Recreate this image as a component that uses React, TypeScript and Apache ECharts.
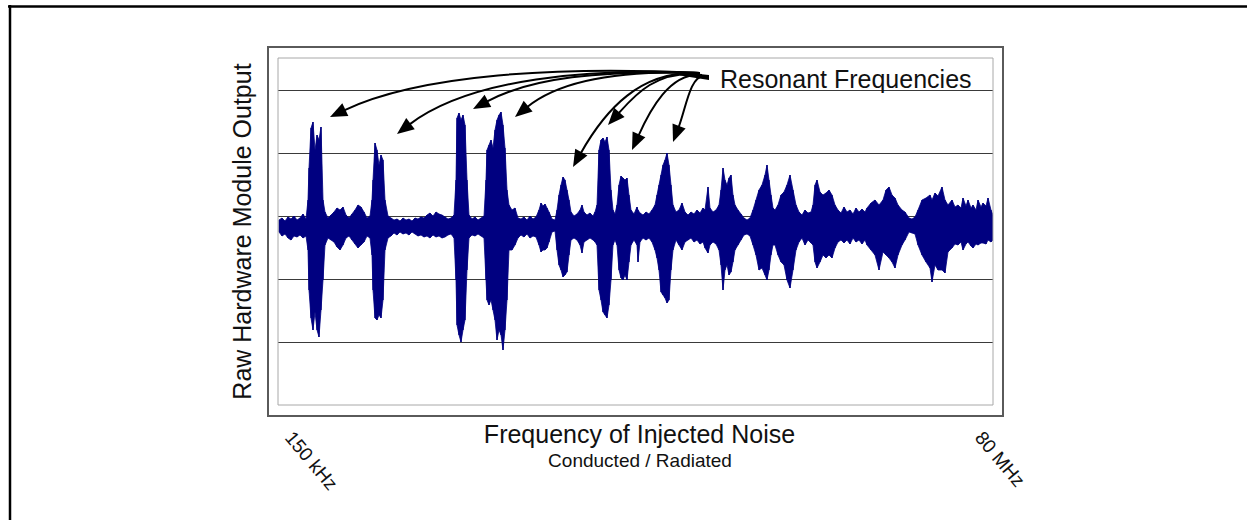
import React, { useEffect, useRef } from 'react';
import * as echarts from 'echarts';

// Sweep position of each sampled envelope point (arbitrary sweep steps, 150 kHz -> 80 MHz)
const sweepPos = [
  1, 4, 7, 10, 13, 16, 19, 22, 25, 28, 30, 31, 33, 35, 37, 39, 41, 43, 45, 47,
  50, 53, 56, 59, 62, 65, 68, 71, 74, 77, 80, 83, 86, 89, 92, 94, 95, 97, 99, 101,
  103, 105, 107, 110, 113, 116, 119, 122, 125, 128, 131, 134, 137, 140, 143, 146, 149, 152, 155, 158,
  161, 164, 167, 170, 173, 176, 178, 179, 181, 183, 185, 187, 189, 191, 194, 197, 200, 203, 206, 208,
  209, 211, 213, 215, 217, 219, 221, 223, 225, 227, 229, 231, 234, 237, 240, 243, 246, 249, 252, 255,
  258, 261, 263, 265, 267, 269, 271, 274, 277, 279, 281, 283, 285, 287, 289, 291, 293, 296, 299, 302,
  304, 306, 309, 312, 315, 317, 319, 321, 323, 325, 327, 329, 331, 333, 335, 337, 339, 341, 343, 345,
  347, 349, 351, 353, 356, 359, 360, 362, 365, 368, 371, 374, 377, 379, 381, 383, 385, 387, 389, 391,
  393, 395, 398, 401, 404, 407, 410, 413, 416, 419, 422, 425, 427, 430, 432, 435, 438, 441, 443, 445,
  447, 449, 451, 453, 455, 457, 460, 463, 466, 469, 472, 475, 478, 481, 484, 487, 489, 491, 493, 495,
  497, 500, 503, 506, 509, 512, 515, 518, 521, 524, 527, 530, 533, 535, 537, 539, 542, 545, 548, 551,
  554, 557, 560, 563, 566, 569, 572, 575, 578, 581, 584, 587, 589, 593, 597, 601, 605, 608, 611, 614,
  617, 620, 624, 627, 631, 634, 637, 640, 644, 648, 652, 654, 657, 660, 664, 667, 670, 674, 677, 680,
  683, 685, 688, 690, 693, 695, 698, 700, 703, 705, 708, 710, 713, 715,
];

// Upper envelope of the raw module output (counts; one grid division = 63 counts)
const peakHigh = [
  -4, -2, -5, -1, -3, 0, -4, -2, 2, -3, 16, 48, 88, 94, 66, 81, 76, 89, 16, 4,
  -2, 1, 4, 8, 6, 9, 1, -2, 2, 6, 11, 9, 4, -2, 0, 16, 36, 73, 66, 51,
  61, 56, 16, 0, -2, -4, -3, -5, -2, -4, -3, -5, -2, -3, -1, -2, 1, 3, 0, 4,
  2, 1, -1, -3, -2, 1, 36, 98, 103, 96, 101, 91, 36, 1, -3, -1, -4, -2, 0, 36,
  66, 71, 76, 68, 86, 96, 101, 104, 91, 68, 26, 11, 6, 8, -2, -3, -1, -4, 0, -3,
  -1, 6, 13, 10, 12, 8, 4, -3, -4, 6, 21, 31, 39, 36, 26, 16, 4, 0, 2, 6,
  11, 4, 1, 3, 0, 4, 11, 66, 76, 78, 74, 79, 66, 26, 6, 2, 11, 31, 40, 38,
  36, 38, 21, 6, 2, 9, 6, 3, 1, 4, 2, 6, 11, 21, 31, 41, 51, 56, 63, 51,
  31, 11, 4, 6, 13, 4, 1, 4, 2, 6, 3, 8, 6, 29, 8, 4, 6, 11, 26, 48,
  36, 31, 38, 41, 21, 11, 6, 2, -2, -4, -2, 6, 16, 26, 31, 41, 51, 36, 21, 8,
  6, 11, 21, 24, 31, 41, 26, 11, 4, 1, 6, 3, 4, 11, 31, 36, 24, 21, 23, 26,
  21, 11, 6, 3, 9, 4, 6, 2, 8, 4, 7, 4, 8, 13, 16, 11, 16, 26, 29, 21,
  18, 11, 6, 4, -2, -3, -1, 6, 16, 18, 21, 16, 23, 20, 29, 16, 11, 16, 9, 11,
  8, 18, 10, 16, 8, 11, 6, 16, 9, 13, 10, 18, 6, 1,
];

// Lower envelope of the raw module output (counts)
const peakLow = [
  -16, -20, -18, -22, -24, -20, -21, -19, -22, -20, -34, -74, -102, -114, -96, -114, -121, -94, -64, -29,
  -22, -24, -26, -31, -34, -29, -22, -20, -24, -28, -32, -29, -26, -20, -22, -39, -74, -102, -104, -99,
  -102, -84, -34, -22, -20, -17, -19, -16, -18, -17, -19, -16, -18, -20, -19, -21, -20, -22, -19, -21,
  -20, -22, -21, -19, -18, -22, -64, -109, -119, -126, -114, -104, -54, -22, -19, -20, -18, -20, -22, -64,
  -84, -89, -84, -94, -104, -124, -114, -119, -134, -114, -84, -34, -34, -29, -22, -19, -21, -18, -22, -20,
  -21, -29, -36, -34, -34, -32, -26, -16, -15, -34, -49, -54, -61, -59, -56, -39, -24, -22, -24, -29,
  -37, -26, -24, -22, -24, -26, -29, -74, -84, -96, -99, -102, -89, -64, -29, -24, -29, -54, -62, -64,
  -59, -64, -46, -29, -24, -29, -46, -26, -22, -24, -22, -26, -34, -42, -54, -76, -79, -82, -87, -84,
  -54, -34, -24, -29, -34, -26, -24, -22, -26, -24, -28, -26, -32, -37, -29, -26, -28, -34, -49, -74,
  -54, -49, -59, -56, -46, -34, -29, -24, -19, -18, -20, -29, -39, -54, -52, -59, -64, -54, -39, -29,
  -29, -39, -46, -49, -64, -72, -54, -34, -26, -22, -29, -24, -27, -29, -46, -52, -46, -39, -42, -39,
  -42, -32, -26, -24, -27, -24, -28, -22, -26, -24, -28, -24, -29, -34, -39, -54, -36, -39, -42, -46,
  -52, -39, -29, -24, -16, -17, -18, -29, -39, -46, -52, -66, -49, -54, -54, -57, -36, -32, -28, -29,
  -26, -34, -28, -26, -30, -32, -28, -29, -27, -27, -28, -24, -26, -24,
];

const xTickValues = [11, 701];
const xTickLabels = ['150 kHz', '80 MHz'];
const yAxisTitle = 'Raw Hardware Module Output';
const xAxisTitle = 'Frequency of Injected Noise';
const xAxisSubtitle = 'Conducted / Radiated';
const annotationText = 'Resonant Frequencies';

// Annotation arrow layout (start, control points, arrow tip)
const arrowLayout = [
  { s: [700, 73], c1: [560, 66], c2: [420, 74], tip: [330, 117] },
  { s: [700, 73], c1: [590, 68], c2: [470, 78], tip: [397, 134] },
  { s: [700, 73], c1: [600, 70], c2: [530, 78], tip: [473, 109] },
  { s: [700, 73], c1: [620, 70], c2: [560, 80], tip: [515, 117] },
  { s: [700, 73], c1: [640, 70], c2: [605, 110], tip: [573, 167] },
  { s: [700, 74], c1: [655, 71], c2: [635, 95], tip: [608, 125] },
  { s: [702, 75], c1: [670, 72], c2: [650, 110], tip: [632, 150] },
  { s: [704, 76], c1: [690, 76], c2: [686, 108], tip: [673, 142] },
];

const NAVY = '#000080';
const FONT = '"Liberation Sans", Arial, Helvetica, sans-serif';

function buildArrows() {
  const els: any[] = [];
  const L = 17;
  const W = 7;
  arrowLayout.forEach((a) => {
    const dx = a.tip[0] - a.c2[0];
    const dy = a.tip[1] - a.c2[1];
    const len = Math.sqrt(dx * dx + dy * dy);
    const ux = dx / len;
    const uy = dy / len;
    const bx = a.tip[0] - L * ux;
    const by = a.tip[1] - L * uy;
    const nx = -uy;
    const ny = ux;
    els.push({
      type: 'bezierCurve',
      shape: {
        x1: a.s[0], y1: a.s[1],
        cpx1: a.c1[0], cpy1: a.c1[1],
        cpx2: a.c2[0], cpy2: a.c2[1],
        x2: bx + 2 * ux, y2: by + 2 * uy,
      },
      style: { stroke: '#000', lineWidth: 2, fill: null },
      z: 50,
    });
    els.push({
      type: 'polygon',
      shape: {
        points: [
          [a.tip[0], a.tip[1]],
          [bx + W * nx, by + W * ny],
          [bx - W * nx, by - W * ny],
        ],
      },
      style: { fill: '#000' },
      z: 50,
    });
  });
  els.push({
    type: 'polygon',
    shape: { points: [[680, 72], [709, 75], [709, 80], [680, 75.5]] },
    style: { fill: '#000' },
    z: 50,
  });
  return els;
}

export default function App() {
  const ref = useRef<HTMLDivElement>(null);

  useEffect(() => {
    if (!ref.current) return;
    const chart = echarts.init(ref.current, null, { renderer: 'svg' });

    // each item: segment from one envelope sample to the next
    const envelope = sweepPos.slice(0, -1).map((x, i) => [
      x, peakHigh[i], peakLow[i], sweepPos[i + 1], peakHigh[i + 1], peakLow[i + 1],
    ]);

    const option: any = {
      animation: false,
      backgroundColor: '#ffffff',
      grid: { left: 278, top: 58, width: 715, height: 347, show: false },
      xAxis: {
        type: 'value',
        min: 0,
        max: 715,
        name: xAxisTitle,
        nameLocation: 'middle',
        nameGap: 16,
        nameMoveOverlap: false,
        nameTextStyle: {
          fontFamily: FONT,
          fontSize: 25,
          color: '#111',
          padding: [0, 0, 0, 8],
        },
        axisLine: { show: false },
        axisTick: { show: false },
        splitLine: { show: false },
        axisLabel: {
          customValues: xTickValues,
          rotate: -50,
          margin: 29,
          fontFamily: FONT,
          fontSize: 19,
          color: '#111',
          formatter: (v: number) => {
            const k = xTickValues.indexOf(v);
            return k >= 0 ? xTickLabels[k] : '';
          },
        },
      },
      yAxis: {
        type: 'value',
        min: -189,
        max: 158,
        interval: 63,
        name: yAxisTitle,
        nameLocation: 'middle',
        nameGap: 24,
        nameTextStyle: { fontFamily: FONT, fontSize: 25, color: '#111' },
        axisLine: { show: false },
        axisTick: { show: false },
        axisLabel: { show: false },
        splitLine: {
          show: true,
          lineStyle: {
            color: ['rgba(0,0,0,0)', '#3a3a3a', '#3a3a3a', '#3a3a3a', '#3a3a3a', '#3a3a3a', 'rgba(0,0,0,0)'],
            width: 1,
          },
        },
      },
      series: [
        {
          type: 'custom',
          name: 'Raw output',
          data: envelope,
          encode: { x: [0, 3], y: [1, 2, 4, 5] },
          silent: true,
          clip: true,
          renderItem: (params: any, api: any) => {
            const p0 = api.coord([api.value(0), api.value(1)]);
            const p1 = api.coord([api.value(3), api.value(4)]);
            const p2 = api.coord([api.value(3), api.value(5)]);
            const p3 = api.coord([api.value(0), api.value(2)]);
            return {
              type: 'polygon',
              shape: { points: [p0, p1, p2, p3] },
              style: { fill: NAVY, stroke: NAVY, lineWidth: 0.8 },
            };
          },
          z: 3,
        },
      ],
      graphic: [
        {
          type: 'line',
          shape: { x1: 8, y1: 6.5, x2: 1247, y2: 6.5 },
          style: { stroke: '#000', lineWidth: 2.5 },
        },
        {
          type: 'line',
          shape: { x1: 10, y1: 5, x2: 10, y2: 520 },
          style: { stroke: '#000', lineWidth: 2.5 },
        },
        {
          type: 'rect',
          shape: { x: 268, y: 47, width: 735, height: 369 },
          style: { stroke: '#5a5a5a', lineWidth: 2, fill: null },
          z: 40,
        },
        {
          type: 'rect',
          shape: { x: 278, y: 58, width: 715, height: 347 },
          style: { stroke: '#a8a8a8', lineWidth: 1, fill: null },
          z: 40,
        },
        {
          type: 'text',
          x: 720,
          y: 79,
          style: {
            text: annotationText,
            fontFamily: FONT,
            fontSize: 25,
            fill: '#111',
            textAlign: 'left',
            textVerticalAlign: 'middle',
          },
          z: 50,
        },
        {
          type: 'text',
          x: 640,
          y: 460,
          style: {
            text: xAxisSubtitle,
            fontFamily: FONT,
            fontSize: 19,
            fill: '#111',
            textAlign: 'center',
            textVerticalAlign: 'middle',
          },
          z: 50,
        },
        ...buildArrows(),
      ],
    };

    chart.setOption(option);
    return () => chart.dispose();
  }, []);

  return (
    <div
      ref={ref}
      style={{ position: 'fixed', left: 0, top: 0, width: 1247, height: 520, background: '#fff' }}
    />
  );
}
